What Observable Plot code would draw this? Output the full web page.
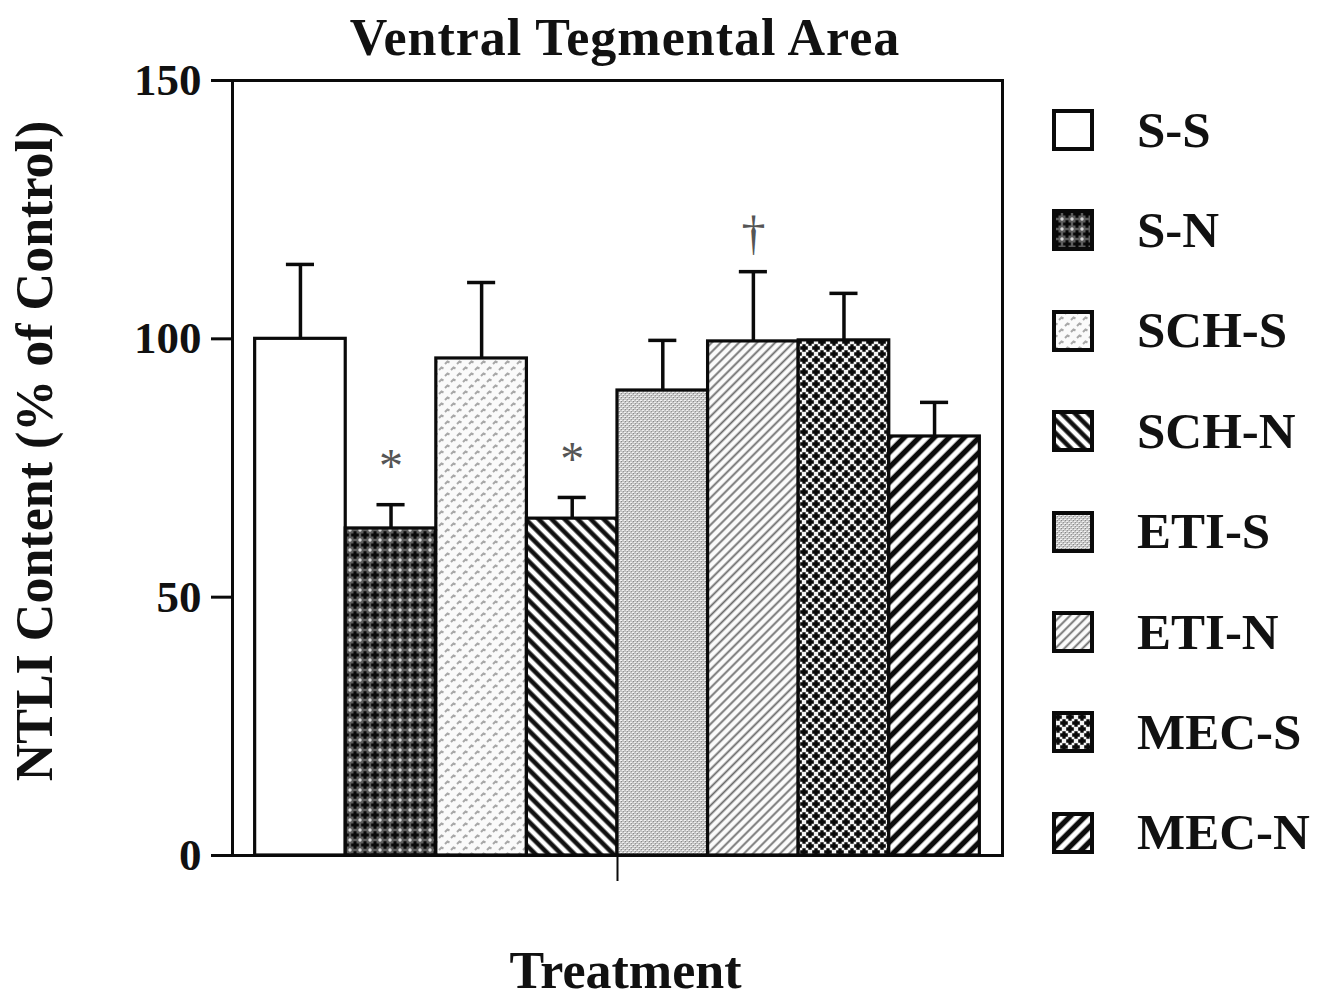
<!DOCTYPE html>
<html>
<head>
<meta charset="utf-8">
<script src="https://cdn.jsdelivr.net/npm/d3@7"></script>
<script src="https://cdn.jsdelivr.net/npm/@observablehq/plot@0.6"></script>
<style>
  html, body { margin: 0; padding: 0; background: #fff; }
  #wrap { position: relative; width: 1331px; height: 1001px; background: #fff; overflow: hidden;
          font-family: "Liberation Serif", "DejaVu Serif", serif; font-weight: bold; color: #111; }
  #title { position: absolute; left: 232px; width: 786px; top: 12px; text-align: center;
           font-size: 52px; line-height: 52px; letter-spacing: 1px; z-index: 2; }
  #chart { position: absolute; left: 0; top: 0; }
  .lg-sw { position: absolute; left: 1052px; width: 42px; height: 42px; }
  .lg-tx { position: absolute; left: 1137px; font-size: 51px; line-height: 50px; white-space: nowrap; }
</style>
</head>
<body>
<svg width="0" height="0" style="position:absolute">
  <defs>
    <pattern id="pSS" width="10" height="10" patternUnits="userSpaceOnUse">
      <rect width="10" height="10" fill="#fff"/>
    </pattern>
    <pattern id="pSN" width="10" height="10" patternUnits="userSpaceOnUse">
      <rect width="10" height="10" fill="#5c5c5c"/>
      <path d="M5 1.2v7.6M1.2 5h7.6" stroke="#080808" stroke-width="3"/>
      <circle cx="0" cy="0" r="1.7" fill="#d8d8d8"/>
      <circle cx="10" cy="0" r="1.7" fill="#d8d8d8"/>
      <circle cx="0" cy="10" r="1.7" fill="#d8d8d8"/>
      <circle cx="10" cy="10" r="1.7" fill="#d8d8d8"/>
    </pattern>
    <pattern id="pSCHS" width="12" height="12" patternUnits="userSpaceOnUse">
      <rect width="12" height="12" fill="#fafafa"/>
      <path d="M1 4l2.5-2.5l2 1M7 10l2.5-2.5l2 1" stroke="#a8a8a8" stroke-width="2" fill="none"/>
    </pattern>
    <pattern id="pSCHN" width="9.2" height="9.2" patternUnits="userSpaceOnUse" patternTransform="rotate(-45)">
      <rect width="9.2" height="9.2" fill="#fff"/>
      <line x1="4.6" y1="0" x2="4.6" y2="9.2" stroke="#111" stroke-width="4.6"/>
    </pattern>
    <pattern id="pETIS" width="4" height="4" patternUnits="userSpaceOnUse">
      <rect width="4" height="4" fill="#c4c4c4"/>
      <rect x="0" y="0" width="2" height="1" fill="#f2f2f2"/>
      <rect x="2" y="2" width="2" height="1" fill="#eeeeee"/>
      <rect x="1" y="1" width="1" height="1" fill="#888"/>
      <rect x="3" y="3" width="1" height="1" fill="#949494"/>
    </pattern>
    <pattern id="pETIN" width="6.4" height="6.4" patternUnits="userSpaceOnUse" patternTransform="rotate(45)">
      <rect width="6.4" height="6.4" fill="#fbfbfb"/>
      <line x1="3.2" y1="0" x2="3.2" y2="6.4" stroke="#6a6a6a" stroke-width="1.8"/>
    </pattern>
    <pattern id="pMECS" width="12" height="12" patternUnits="userSpaceOnUse">
      <rect width="12" height="12" fill="#f4f4f4"/>
      <path d="M6 2.2v7.6M2.2 6h7.6" stroke="#0a0a0a" stroke-width="3.3"/>
      <path d="M0 -3.8v7.6M-3.8 0h7.6M12 -3.8v7.6M8.2 0h7.6M0 8.2v7.6M-3.8 12h7.6M12 8.2v7.6M8.2 12h7.6" stroke="#0a0a0a" stroke-width="3.3"/>
    </pattern>
    <pattern id="pMECN" width="10.6" height="10.6" patternUnits="userSpaceOnUse" patternTransform="rotate(45)">
      <rect width="10.6" height="10.6" fill="#fff"/>
      <line x1="5.3" y1="0" x2="5.3" y2="10.6" stroke="#0c0c0c" stroke-width="5.4"/>
    </pattern>
  </defs>
</svg>
<div id="wrap">
  <div id="title">Ventral Tegmental Area</div>
  <div id="chart"></div>
  <div id="legend"></div>
</div>
<script>
// ---- data ----
const categories = ["S-S", "S-N", "SCH-S", "SCH-N", "ETI-S", "ETI-N", "MEC-S", "MEC-N"];
const means = [100, 63.3, 96.2, 65.2, 90.0, 99.5, 99.7, 81.1];
const sems = [14.4, 4.6, 14.7, 4.1, 9.7, 13.5, 9.1, 6.6];
const significance = ["", "*", "", "*", "", "\u2020", "", ""];
const yTicks = [0, 50, 100, 150];
const yLabel = "NTLI Content (% of Control)";
const xLabel = "Treatment";

// ---- styles ----
const patternFills = ["url(#pSS)", "url(#pSN)", "url(#pSCHS)", "url(#pSCHN)",
                      "url(#pETIS)", "url(#pETIN)", "url(#pMECS)", "url(#pMECN)"];

const rows = categories.map((cat, i) => ({
  cat, i, mean: means[i], sem: sems[i], top: means[i] + sems[i], sig: significance[i]
}));

const n = categories.length;
const capHalf = 0.155;

const chart = Plot.plot({
  width: 1040,
  height: 1001,
  marginTop: 80,
  marginBottom: 146,
  marginLeft: 232,
  marginRight: 38,
  style: { fontFamily: "'Liberation Serif', 'DejaVu Serif', serif", fontWeight: "bold", color: "#111", background: "transparent" },
  x: { domain: [-0.25, n + 0.25] },
  y: { domain: [0, 150] },
  color: { domain: categories, range: patternFills },
  marks: [
    Plot.rectY(rows, { x1: "i", x2: d => d.i + 1, y1: 0, y2: "mean", fill: "cat", stroke: "#0a0a0a", strokeWidth: 3.2 }),
    Plot.ruleX(rows, { x: d => d.i + 0.5, y1: "mean", y2: "top", stroke: "#0a0a0a", strokeWidth: 3.5 }),
    Plot.ruleY(rows, { y: "top", x1: d => d.i + 0.5 - capHalf, x2: d => d.i + 0.5 + capHalf, stroke: "#0a0a0a", strokeWidth: 3.5 }),
    Plot.text(rows.filter(d => d.sig), { x: d => d.i + 0.5, y: "top", text: "sig", dy: -38, fontSize: 48, fill: "#555", fontWeight: "normal", lineAnchor: "middle" }),
    Plot.frame({ stroke: "#0a0a0a", strokeWidth: 3 }),
    Plot.axisY({ ticks: yTicks, tickSize: 21, tickPadding: 10, fontSize: 45, label: null, strokeWidth: 3, stroke: "#0a0a0a" }),
    Plot.axisX({ ticks: [n / 2], tickSize: 26, tickFormat: () => "", label: null, strokeWidth: 2, stroke: "#0a0a0a" }),
    Plot.text([yLabel], { frameAnchor: "left", textAnchor: "middle", rotate: -90, dx: -197, dy: -17, fontSize: 52, lineAnchor: "middle", fill: "#111" }),
    Plot.text([xLabel], { frameAnchor: "bottom", textAnchor: "middle", dx: 8, dy: 116, fontSize: 52, lineAnchor: "middle", fill: "#111" })
  ]
});
document.getElementById("chart").appendChild(chart);

// ---- legend ----
const legend = document.getElementById("legend");
categories.forEach((cat, i) => {
  const top = 109 + i * 100.4;
  const sw = document.createElementNS("http://www.w3.org/2000/svg", "svg");
  sw.setAttribute("class", "lg-sw");
  sw.setAttribute("width", 42);
  sw.setAttribute("height", 42);
  sw.style.top = top + "px";
  const r = document.createElementNS("http://www.w3.org/2000/svg", "rect");
  r.setAttribute("x", 2); r.setAttribute("y", 2);
  r.setAttribute("width", 38); r.setAttribute("height", 38);
  r.setAttribute("fill", patternFills[i]);
  r.setAttribute("stroke", "#0a0a0a");
  r.setAttribute("stroke-width", 4);
  sw.appendChild(r);
  legend.appendChild(sw);
  const t = document.createElement("div");
  t.className = "lg-tx";
  t.style.top = (top - 4.5) + "px";
  t.textContent = cat;
  legend.appendChild(t);
});
</script>
</body>
</html>
